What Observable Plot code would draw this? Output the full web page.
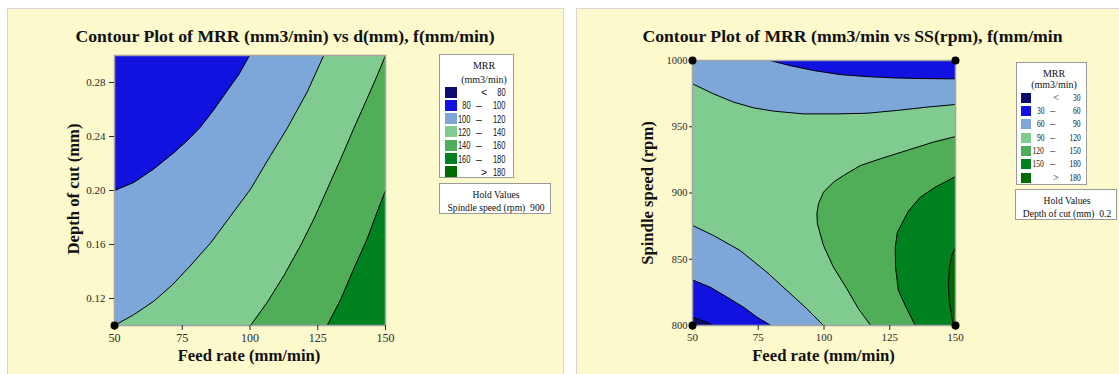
<!DOCTYPE html>
<html><head><meta charset="utf-8">
<script src="https://cdn.jsdelivr.net/npm/d3@7"></script>
<script src="https://cdn.jsdelivr.net/npm/@observablehq/plot@0.6"></script>
<style>
body{margin:0;background:#fff;width:1119px;height:374px;overflow:hidden;position:relative;font-family:"Liberation Serif","Times New Roman",serif;color:#111;}
.panel{position:absolute;background:#fcf9cc;border:1.5px solid #d6d6d6;box-sizing:border-box;}
.abs{position:absolute;white-space:nowrap;line-height:1;}
.title{font-weight:bold;font-size:17.7px;transform:translateX(-50%);}
.xlab{font-weight:bold;font-size:16.7px;transform:translateX(-50%);}
.ylab{font-weight:bold;font-size:16.7px;transform:translate(-50%,-50%) rotate(-90deg);}
.box{position:absolute;background:#fff;border:1px solid #9a9a9a;box-sizing:border-box;}
.sw{position:absolute;}
.num{position:absolute;transform:translateY(-50%);line-height:1;white-space:nowrap;}
.num span{display:inline-block;transform:scaleX(0.72);transform-origin:right center;}
.ctr{position:absolute;transform:translate(-50%,-50%);line-height:1;white-space:nowrap;}
.plotwrap{position:absolute;left:0;top:0;}
</style></head><body>
<div class="panel" style="left:7px;top:8px;width:557px;height:380px"></div>
<div class="panel" style="left:576px;top:8px;width:560px;height:380px"></div>
<div id="p1" class="plotwrap"></div>
<div id="p2" class="plotwrap" style="left:560px"></div>
<script>
// ---------- data ----------
const feedDomain = [50, 150];
const depthDomain = [0.1, 0.3];
const speedDomain = [800, 1000];
const feedTicks = [50, 75, 100, 125, 150];
const depthTicks = [0.12, 0.16, 0.20, 0.24, 0.28];
const speedTicks = [800, 850, 900, 950, 1000];

const bandColors = ["#0c0c6e", "#1212e0", "#7da7d9", "#80cc90", "#50ae58", "#008120", "#006b00"];
const legend1Labels = [["", "<", "80"], ["80", "–", "100"], ["100", "–", "120"], ["120", "–", "140"], ["140", "–", "160"], ["160", "–", "180"], ["", ">", "180"]];
const legend2Labels = [["", "<", "30"], ["30", "–", "60"], ["60", "–", "90"], ["90", "–", "120"], ["120", "–", "150"], ["150", "–", "180"], ["", ">", "180"]];

// Plot 1: MRR vs depth of cut (d) and feed rate (f), contour lines [f, d]
const c100L = [[50,0.200],[57.1,0.206],[64.5,0.216],[71.9,0.228],[77.4,0.238],[81.7,0.247],[86.7,0.260],[91.6,0.274],[95.9,0.286],[99.8,0.300]];
const c120L = [[50,0.100],[57.1,0.108],[64.5,0.118],[71.3,0.130],[77.4,0.143],[85.4,0.161],[92.8,0.181],[100.2,0.201],[107.6,0.226],[113.7,0.246],[121.1,0.273],[127.2,0.300]];
const c140L = [[100.2,0.100],[106.3,0.117],[112.5,0.137],[118.6,0.159],[123.6,0.179],[128.5,0.201],[133.4,0.223],[138.3,0.246],[143.2,0.268],[146.9,0.285],[150,0.300]];
const c160L = [[128.5,0.100],[133.4,0.119],[138.3,0.142],[143.2,0.164],[146.9,0.184],[150,0.200]];
const design1 = [[50, 0.1]];

// Plot 2: MRR vs spindle speed (SS) and feed rate (f), contour lines [f, SS]
const c60T = [[79.5,1000],[87.1,996.2],[96.0,992.5],[106.1,989.4],[116.3,987.9],[126.4,986.9],[136.6,986.4],[150,986.2]];
const c90T = [[50,982.4],[58,974.8],[65.6,968.6],[73.2,964.3],[80.8,961.8],[92.2,959.7],[104.9,959.7],[116.3,960.2],[127.7,962.3],[139.1,964.8],[150,966.8]];
const c90B = [[50,875.5],[58,867.9],[68.1,856.6],[78.3,840.2],[85.9,826.4],[93.5,812.6],[99.8,800]];
const c60B = [[50,834.4],[56.7,828.9],[63.1,821.4],[69.4,813.8],[74.5,806.3],[79.8,800]];
const c30B = [[50,806.3],[54.2,803.3],[58,800]];
const c120R = [[150,942.6],[141.6,938.4],[131.5,932.1],[121.4,925.8],[113.8,920.7],[107.4,913.2],[103.6,908.2],[99.8,900.6],[97.9,891.8],[97.3,884.3],[97.5,876.7],[99.8,860.4],[103.6,844.0],[108.7,827.7],[113.1,812.6],[117.8,800]];
const c150R = [[150,912.4],[142.3,904.4],[136.6,896.8],[132.1,886.3],[129.6,876.7],[127.9,870.4],[127.1,859.1],[127.2,844.0],[128.3,826.4],[131.5,812.6],[134.7,800]];
const c180R = [[150,859.1],[148.6,852.8],[147.7,844.0],[147.3,831.4],[147.6,818.9],[148.6,806.3],[149.2,800]];
const design2 = [[50,800],[50,1000],[150,800],[150,1000]];

// ---------- drawing ----------
const X = d => d[0], Y = d => d[1];
const [f0, f1] = feedDomain, [d0, d1] = depthDomain, [s0, s1] = speedDomain;

function contourPlot({width, height, margins, yDomain, yTicks, yFormat, base, regions, lines, design, xFont, yFont, ytick}) {
  return Plot.plot({
    width, height,
    marginLeft: margins[0], marginRight: margins[1], marginTop: margins[2], marginBottom: margins[3],
    style: {background: "transparent", color: "#2a2a2a", fontFamily: "'Liberation Serif','Times New Roman',serif", fontSize: xFont + "px", overflow: "visible"},
    x: {domain: feedDomain, label: null, ticks: feedTicks, tickSize: 5, tickPadding: 3},
    y: {domain: yDomain, label: null, ticks: yTicks, tickFormat: yFormat, tickSize: ytick[0], tickPadding: ytick[1]},
    marks: [
      Plot.frame({fill: base}),
      ...regions.map(r => Plot.line(r.pts, {x: X, y: Y, fill: r.color, stroke: r.color, strokeWidth: 0.5})),
      ...lines.map(l => Plot.line(l, {x: X, y: Y, stroke: "#000", strokeWidth: 1})),
      Plot.frame({stroke: "#a4a4a8", strokeWidth: 1.5}),
      Plot.axisX({ticks: feedTicks, tickSize: 5, tickPadding: 3, fontSize: xFont, label: null}),
      Plot.axisY({ticks: yTicks, tickFormat: yFormat, tickSize: ytick[0], tickPadding: ytick[1], fontSize: yFont, label: null}),
      Plot.dot(design, {x: X, y: Y, r: 4, fill: "#000", stroke: "none"})
    ]
  });
}

const plot1 = contourPlot({
  width: 400, height: 374, margins: [114, 15, 55, 49],
  yDomain: depthDomain, yTicks: depthTicks, yFormat: ".2f",
  base: bandColors[3],
  regions: [
    {pts: [...c120L, [f0, d1]], color: bandColors[2]},
    {pts: [...c100L, [f0, d1]], color: bandColors[1]},
    {pts: [...c140L, [f1, d0]], color: bandColors[4]},
    {pts: [...c160L, [f1, d0]], color: bandColors[5]}
  ],
  lines: [c100L, c120L, c140L, c160L],
  design: design1, xFont: 12, yFont: 11, ytick: [5, 4]
});
document.getElementById("p1").append(plot1);

const plot2 = contourPlot({
  width: 420, height: 374, margins: [132, 25, 60, 49],
  yDomain: speedDomain, yTicks: speedTicks, yFormat: "d",
  base: bandColors[3],
  regions: [
    {pts: [...c90T, [f1, s1], [f0, s1]], color: bandColors[2]},
    {pts: [...c60T, [f1, s1]], color: bandColors[1]},
    {pts: [...c90B, [f0, s0]], color: bandColors[2]},
    {pts: [...c60B, [f0, s0]], color: bandColors[1]},
    {pts: [...c30B, [f0, s0]], color: bandColors[0]},
    {pts: [...c120R, [f1, s0]], color: bandColors[4]},
    {pts: [...c150R, [f1, s0]], color: bandColors[5]},
    {pts: [...c180R, [f1, s0]], color: bandColors[6]}
  ],
  lines: [c60T, c90T, c90B, c60B, c30B, c120R, c150R, c180R],
  design: design2, xFont: 11, yFont: 10.5, ytick: [3, 2]
});
document.getElementById("p2").append(plot2);

// ---------- text & legends ----------
function addText(html, cls, style) {
  const d = document.createElement("div");
  d.className = cls; d.innerHTML = html; d.setAttribute("style", style);
  document.body.append(d);
  return d;
}
addText("Contour Plot of MRR (mm3/min) vs d(mm), f(mm/min)", "abs title", "left:285px;top:27.5px");
addText("Contour Plot of MRR (mm3/min vs SS(rpm), f(mm/min", "abs title", "left:852.5px;top:27.5px");
addText("Feed rate (mm/min)", "abs xlab", "left:249px;top:347.7px");
addText("Feed rate (mm/min)", "abs xlab", "left:823.5px;top:347.7px");
addText("Depth of cut (mm)", "abs ylab", "left:74px;top:189px");
addText("Spindle speed (rpm)", "abs ylab", "left:648px;top:193px");

function legendBox(o) {
  const box = document.createElement("div");
  box.className = "box";
  box.setAttribute("style", `left:${o.left}px;top:${o.top}px;width:${o.w}px;height:${o.h}px;font-size:${o.fs}px;`);
  document.body.append(box);
  const t1 = document.createElement("div"); t1.className = "ctr"; t1.textContent = "MRR";
  t1.setAttribute("style", `left:${o.tx}px;top:${o.ty[0]}px;font-family:'Liberation Serif',serif;font-size:10px`);
  const t2 = document.createElement("div"); t2.className = "ctr"; t2.textContent = "(mm3/min)";
  t2.setAttribute("style", `left:${o.tx}px;top:${o.ty[1]}px;font-family:'Liberation Serif',serif;font-size:10px`);
  box.append(t1, t2);
  o.labels.forEach((lab, i) => {
    const cy = o.row0 + i * o.dy;
    const sw = document.createElement("div"); sw.className = "sw";
    sw.setAttribute("style", `left:${o.swx}px;top:${cy - o.swh / 2}px;width:${o.sww}px;height:${o.swh}px;background:${bandColors[i]}`);
    box.append(sw);
    const a = document.createElement("div"); a.className = "num";
    a.setAttribute("style", `right:${o.w - o.c1}px;top:${cy}px;font-family:${o.ff}`);
    a.innerHTML = `<span>${lab[0]}</span>`;
    const b = document.createElement("div"); b.className = "ctr";
    b.setAttribute("style", `left:${lab[1] === "–" ? o.cd : o.cs}px;top:${cy}px;font-family:${o.ff}`);
    b.textContent = lab[1];
    const c = document.createElement("div"); c.className = "num";
    c.setAttribute("style", `right:${o.w - o.c2}px;top:${cy}px;font-family:${o.ff}`);
    c.innerHTML = `<span>${lab[2]}</span>`;
    box.append(a, b, c);
  });
}
legendBox({left: 439, top: 54, w: 75, h: 124, fs: 10.5, tx: 44, ty: [11, 25], row0: 37, dy: 13.33,
  swx: 5, sww: 12, swh: 11, c1: 33, cd: 39, cs: 44, c2: 68, ff: "'Liberation Sans',Arial,sans-serif", labels: legend1Labels});
legendBox({left: 1016, top: 62, w: 71, h: 123, fs: 10.5, tx: 37, ty: [11.3, 22.3], row0: 34.7, dy: 13.33,
  swx: 4, sww: 10, swh: 10, c1: 29, cd: 35.7, cs: 39, c2: 65.7, ff: "'Liberation Serif',serif", labels: legend2Labels});

function holdBox(left, top, w, h, line2) {
  const box = document.createElement("div");
  box.className = "box";
  box.setAttribute("style", `left:${left}px;top:${top}px;width:${w}px;height:${h}px;font-size:9.6px`);
  const a = document.createElement("div"); a.className = "ctr"; a.textContent = "Hold Values";
  a.setAttribute("style", `left:${w / 2}px;top:${h * 0.37}px`);
  const b = document.createElement("div"); b.className = "ctr"; b.innerHTML = line2;
  b.setAttribute("style", `left:${w / 2}px;top:${h * 0.77}px`);
  box.append(a, b);
  document.body.append(box);
}
holdBox(439, 183, 112, 31, "Spindle speed (rpm)&nbsp;&nbsp;900");
holdBox(1015, 189, 102, 31, "Depth of cut (mm)&nbsp;&nbsp;0.2");
</script>
</body></html>
